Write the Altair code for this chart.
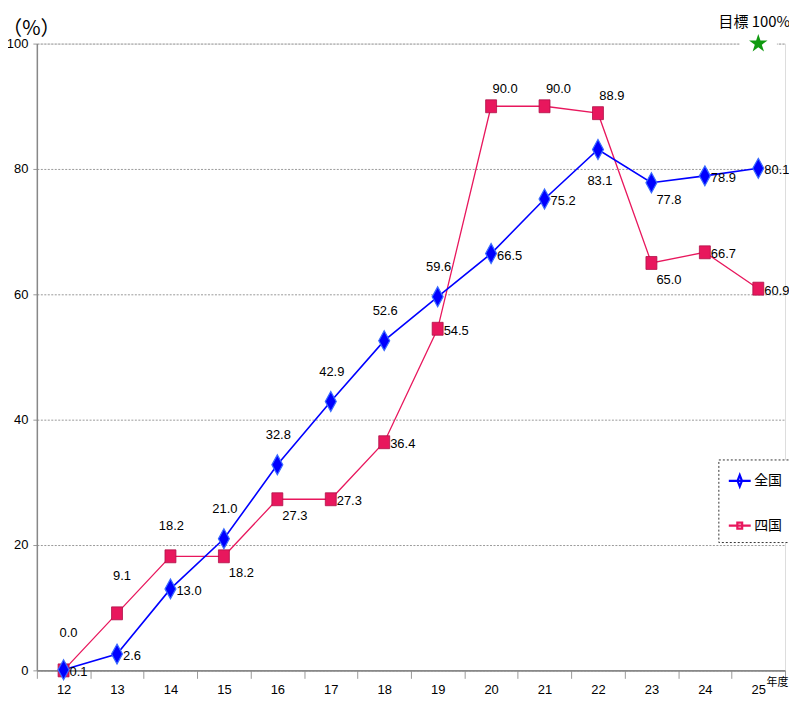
import altair as alt
import pandas as pd

years = ["12", "13", "14", "15", "16", "17", "18", "19", "20", "21", "22", "23", "24", "25"]
series_names = ["全国", "四国"]
zenkoku = [0.1, 2.6, 13.0, 21.0, 32.8, 42.9, 52.6, 59.6, 66.5, 75.2, 83.1, 77.8, 78.9, 80.1]
shikoku = [0.0, 9.1, 18.2, 18.2, 27.3, 27.3, 36.4, 54.5, 90.0, 90.0, 88.9, 65.0, 66.7, 60.9]
zenkoku_label_pos = ["r", "r", "r", "a", "a", "a", "a", "a", "r", "r", "b", "br", "r", "r"]
shikoku_label_pos = ["au", "au", "a", "br", "br", "r", "r", "r", "ar", "ar", "ar", "br", "r", "r"]
target_year = "25"
target_value = 100
target_label = "目標 100%"

rows = []
for name, vals, poss in [(series_names[0], zenkoku, zenkoku_label_pos),
                         (series_names[1], shikoku, shikoku_label_pos)]:
    for yr, v, p in zip(years, vals, poss):
        rows.append({"year": yr, "series": name, "value": v, "pos": p, "label": ""})
rows.append({"year": target_year, "series": "target", "value": target_value, "pos": "none",
             "label": target_label})
df = pd.DataFrame(rows)

BLUE = "#0000FF"
PINK = "#E8175D"
NUM_FONT = "Liberation Sans"
CJK_FONT = "Noto Sans CJK JP"

x_enc = alt.X("year:N", bandPosition=0.5,
              scale=alt.Scale(type="band", domain=years, paddingInner=0, paddingOuter=0),
              axis=alt.Axis(orient="bottom", title="年度", titleFont=CJK_FONT, titleFontSize=11,
                            titleFontWeight="normal",
                            titleX=744, titleY=12, titleAlign="center", titleBaseline="middle",
                            labelAngle=0, labelFont=NUM_FONT, labelFontSize=13, labelColor="#000",
                            tickBand="extent", tickSize=8, tickColor="#999", labelPadding=5,
                            domainColor="#888", domainWidth=2, grid=False))
y_enc = alt.Y("value:Q", scale=alt.Scale(domain=[0, 100], nice=False),
              axis=alt.Axis(orient="left", values=[0, 20, 40, 60, 80, 100], title="（%）", titleAngle=0,
                            titleFont=CJK_FONT, titleFontSize=20, titleFontWeight="normal",
                            titleX=-6, titleY=-15, titleAlign="center", titleBaseline="middle",
                            labelFont=NUM_FONT, labelFontSize=13, labelColor="#000", labelPadding=5,
                            tickSize=4, tickColor="#999", domainColor="#888", domainWidth=1.5,
                            grid=True, gridColor="#999", gridDash=[2, 1.5], gridWidth=1))

base = alt.Chart(df).encode(x=x_enc, y=y_enc)

diamond = "M0,-1L0.55,0L0,1L-0.55,0Z"
square = "M-0.55,-0.65H0.55V0.65H-0.55Z"
star = ("M0,-1L0.225,-0.309L0.951,-0.309L0.363,0.118L0.588,0.809L0,0.382"
        "L-0.588,0.809L-0.363,0.118L-0.951,-0.309L-0.225,-0.309Z")
gap = "M-1,-0.12H1V0.12H-1Z"

layers = []
tgt = base.transform_filter(alt.datum.series == "target")
layers.append(tgt.mark_point(shape=gap, size=1400, filled=True, color="white", opacity=1))
layers.append(tgt.mark_point(shape=star, size=380, filled=True, color="#109A10", opacity=1, dy=2))
layers.append(tgt.mark_text(font=CJK_FONT, fontSize=15, color="#000", dy=-22, dx=-4, align="center",
                            baseline="middle").encode(text="label:N"))

layers.append(base.transform_filter(alt.datum.series == series_names[1])
              .mark_line(color=PINK, strokeWidth=1.3))
layers.append(base.transform_filter(alt.datum.series == series_names[0])
              .mark_line(color=BLUE, strokeWidth=1.6))
layers.append(base.transform_filter(alt.datum.series == series_names[1])
              .mark_point(shape=square, size=400, filled=True, fill=PINK, stroke="#B01048",
                          strokeWidth=0.8, opacity=1))
layers.append(base.transform_filter(alt.datum.series == series_names[0])
              .mark_point(shape=diamond, size=400, filled=True, fill=BLUE, stroke="#3A6BFF",
                          strokeWidth=1.2, opacity=1))

placements = {
    "a": dict(dx=1, dy=-30, align="center"),
    "au": dict(dx=5, dy=-38, align="center"),
    "ar": dict(dx=14, dy=-17, align="center"),
    "r": dict(dx=6, dy=2, align="left"),
    "br": dict(dx=5, dy=17, align="left"),
    "b": dict(dx=2, dy=32, align="center"),
}
for key, p in placements.items():
    layers.append(base.transform_filter(alt.datum.pos == key)
                  .mark_text(font=NUM_FONT, fontSize=13, color="#000", baseline="middle", **p)
                  .encode(text=alt.Text("value:Q", format=".1f")))

leg_diamond = "M-1,0H1M0,-0.52L0.2,0L0,0.52L-0.2,0Z"
leg_square = "M-1,0H1M-0.22,-0.27H0.22V0.27H-0.22Z"
legend_layer = base.transform_filter(alt.datum.series != "target").mark_point(
    filled=True, opacity=0).encode(
    color=alt.Color("series:N", scale=alt.Scale(domain=series_names, range=[BLUE, PINK]),
                    legend=alt.Legend(title=None, orient="none", legendX=685, legendY=418,
                                      padding=9, rowPadding=22, symbolSize=484,
                                      symbolStrokeWidth=2.2, symbolOpacity=1,
                                      labelFont=CJK_FONT, labelFontSize=14, labelColor="#000",
                                      labelOffset=2, strokeColor="#333", fillColor="white")),
    stroke=alt.Stroke("series:N", scale=alt.Scale(domain=series_names, range=[BLUE, PINK])),
    shape=alt.Shape("series:N", scale=alt.Scale(domain=series_names, range=[leg_diamond, leg_square])),
)
layers.append(legend_layer)

chart = alt.layer(*layers).properties(
    width=752, height=630,
    autosize=alt.AutoSizeParams(type="none"),
    padding={"left": 29, "top": 34, "right": 4, "bottom": 27},
).configure_view(stroke=None).configure(background="white").configure_legend(
    strokeDash=[2, 2], strokeWidth=1)

chart.save("out.html", embed_options={"renderer": "svg", "actions": False})
